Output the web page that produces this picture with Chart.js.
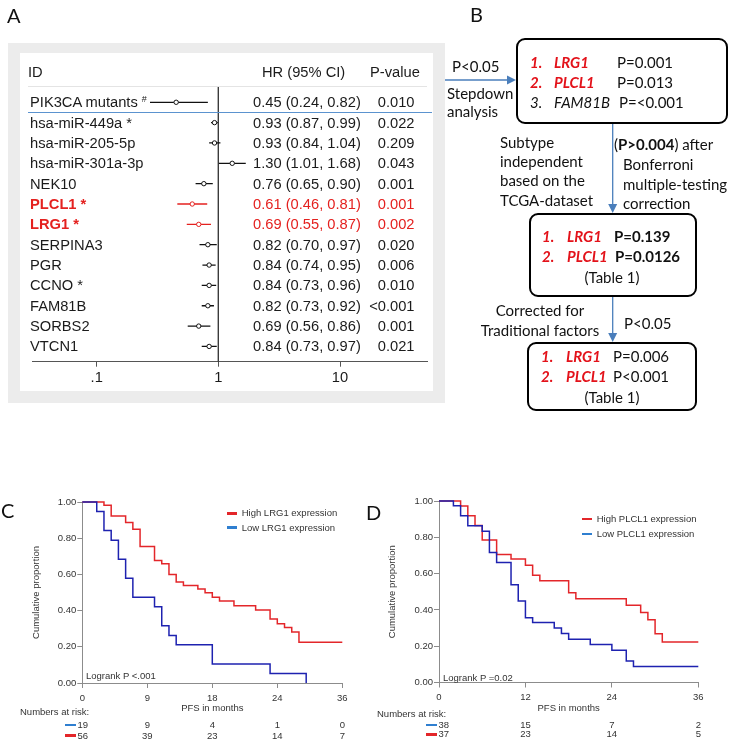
<!doctype html>
<html>
<head>
<meta charset="utf-8">
<title>Forest plot, marker selection and PFS curves</title>
<script src="https://cdn.jsdelivr.net/npm/chart.js@4/dist/chart.umd.min.js"></script>
<style>
  body { margin: 0; background: #fff; }
  #page { position: relative; width: 734px; height: 742px; overflow: hidden; font-family: "Liberation Sans", Arial, sans-serif; color: #1b1b1b; }
  #page canvas { position: absolute; }
  .abs { position: absolute; white-space: nowrap; line-height: 20px; height: 20px; }
  .letter { font-family: Lato, sans-serif; font-size: 20px; color: #111; }
  .fp { font-size: 14.7px; color: #1b1b1b; }
  .fp sup { font-size: 9px; vertical-align: 5px; line-height: 0; }
  .red { color: #e4211f; }
  .redb { color: #e4211f; font-weight: bold; }
  .flow { font-family: Lato, sans-serif; font-size: 15px; color: #111; }
  .gene { color: #e3121a; font-weight: bold; font-style: italic; }
  .km { font-size: 9.5px; color: #333; }
  .box { position: absolute; box-sizing: border-box; border: 2.5px solid #000; border-radius: 9px; background: #fff; }
  .sw { position: absolute; height: 2.5px; }
</style>
</head>
<body>
<div id="page">
  <div style="position:absolute;left:8px;top:43px;width:437px;height:360px;background:#ececec"></div>
  <div style="position:absolute;left:20px;top:53px;width:413px;height:338px;background:#fff"></div>
  <canvas id="forest" width="413" height="338" style="left:20px;top:53px"></canvas>

  <svg width="734" height="742" style="position:absolute;left:0;top:0">
    <g stroke="#4a7ebb" stroke-width="1.3" fill="none">
      <line x1="445" y1="80" x2="508" y2="80"/>
      <line x1="612.7" y1="123" x2="612.7" y2="206"/>
      <line x1="612.7" y1="296" x2="612.7" y2="335"/>
    </g>
    <g fill="#4a7ebb">
      <polygon points="516,80 507,75.5 507,84.5"/>
      <polygon points="612.7,213 608.2,204 617.2,204"/>
      <polygon points="612.7,342 608.2,333 617.2,333"/>
    </g>
  </svg>
  <div class="box" style="left:516px;top:38px;width:212px;height:86px"></div>
  <div class="box" style="left:529px;top:213px;width:168px;height:84px"></div>
  <div class="box" style="left:527px;top:342px;width:170px;height:69px"></div>

  <canvas id="kmC" width="360" height="234" style="left:0;top:480px"></canvas>
  <canvas id="kmD" width="367" height="234" style="left:367px;top:480px"></canvas>
</div>
<script>
  // panel A: Cox regression results
  const rowLabels = ['PIK3CA mutants', 'hsa-miR-449a', 'hsa-miR-205-5p', 'hsa-miR-301a-3p', 'NEK10', 'PLCL1', 'LRG1', 'SERPINA3', 'PGR', 'CCNO', 'FAM81B', 'SORBS2', 'VTCN1'];
  const rowMarks = ['#', '*', '', '', '', '*', '*', '', '', '*', '', '', ''];
  const hrValues = [0.45, 0.93, 0.93, 1.30, 0.76, 0.61, 0.69, 0.82, 0.84, 0.84, 0.82, 0.69, 0.84];
  const ciLower = [0.24, 0.87, 0.84, 1.01, 0.65, 0.46, 0.55, 0.70, 0.74, 0.73, 0.73, 0.56, 0.73];
  const ciUpper = [0.82, 0.99, 1.04, 1.68, 0.90, 0.81, 0.87, 0.97, 0.95, 0.96, 0.92, 0.86, 0.97];
  const pValues = ['0.010', '0.022', '0.209', '0.043', '0.001', '0.001', '0.002', '0.020', '0.006', '0.010', '<0.001', '0.001', '0.021'];
  const highlighted = ['PLCL1', 'LRG1'];
  const hrTicks = [0.1, 1, 10];
  const hrTickLabels = ['.1', '1', '10'];
  const nullHR = 1;

  // panel C: PFS by LRG1 expression (months, cumulative proportion)
  const cHighT = [0, 3, 4, 6, 7, 8, 10, 11, 12, 13, 14, 16, 17, 18, 19, 21, 24, 26, 27, 28, 29, 30, 36];
  const cHighS = [1, 0.982, 0.923, 0.887, 0.85, 0.754, 0.677, 0.659, 0.60, 0.558, 0.538, 0.52, 0.498, 0.474, 0.453, 0.427, 0.403, 0.354, 0.328, 0.306, 0.282, 0.225, 0.225];
  const cLowT = [0, 2, 3, 4, 5, 6, 7, 10, 11, 12, 13, 18, 26, 31];
  const cLowS = [1, 0.947, 0.842, 0.789, 0.684, 0.579, 0.474, 0.421, 0.316, 0.263, 0.211, 0.105, 0.053, 0];
  const cTicks = [0, 9, 18, 27, 36];
  const cTickLabels = ['0', '9', '18', '24', '36'];
  const cRiskLow = [19, 9, 4, 1, 0];
  const cRiskHigh = [56, 39, 23, 14, 7];

  // panel D: PFS by PLCL1 expression
  const dHighT = [0, 3, 4, 5, 6, 8, 10, 12, 13, 14, 18, 19, 26, 28, 29, 30, 31, 36];
  const dHighS = [1, 0.973, 0.919, 0.865, 0.785, 0.705, 0.68, 0.646, 0.591, 0.56, 0.494, 0.462, 0.425, 0.385, 0.346, 0.269, 0.223, 0.223];
  const dLowT = [0, 2, 3, 4, 6, 7, 8, 10, 11, 12, 13, 16, 17, 18, 21, 24, 26, 27, 36];
  const dLowS = [1, 0.974, 0.919, 0.864, 0.834, 0.716, 0.661, 0.539, 0.449, 0.357, 0.33, 0.30, 0.27, 0.238, 0.21, 0.177, 0.118, 0.088, 0.088];
  const dTicks = [0, 12, 24, 36];
  const dTickLabels = ['0', '12', '24', '36'];
  const dRiskLow = [38, 15, 7, 2];
  const dRiskHigh = [37, 23, 14, 5];

  const yTicks = [0, 0.2, 0.4, 0.6, 0.8, 1];

  const RED = '#e3262a';
  const BLUE = '#1e22b0';
  const LEGEND_BLUE = '#2f7fd0';
  const HL = '#e4211f';
  const ROW_MIN = -0.8, ROW_MAX = 12.75;

  const page = document.getElementById('page');
  function put(html, x, cy, cls, align) {
    const d = document.createElement('div');
    d.className = 'abs ' + (cls || '');
    d.innerHTML = html;
    d.style.left = x + 'px';
    d.style.top = (cy - 10) + 'px';
    if (align === 'right') d.style.transform = 'translateX(-100%)';
    if (align === 'center') d.style.transform = 'translateX(-50%)';
    page.appendChild(d);
    return d;
  }
  function swatch(x, cy, w, color) {
    const s = document.createElement('div');
    s.className = 'sw';
    s.style.left = x + 'px';
    s.style.top = (cy - 1.25) + 'px';
    s.style.width = w + 'px';
    s.style.background = color;
    page.appendChild(s);
  }

  // ---------- forest plot ----------
  const isHl = i => highlighted.indexOf(rowLabels[i]) >= 0;
  const rowColor = i => isHl(i) ? HL : '#111';

  const forestSets = rowLabels.map((name, i) => ({
    data: [{x: ciLower[i], y: i}, {x: ciUpper[i], y: i}],
    showLine: true, borderColor: rowColor(i), borderWidth: 1.3, pointRadius: 0, order: 2
  }));
  forestSets.push({
    data: [{x: nullHR, y: ROW_MIN}, {x: nullHR, y: ROW_MAX}],
    showLine: true, borderColor: '#3c3c3c', borderWidth: 1, pointRadius: 0, order: 3
  });
  forestSets.push({
    data: hrValues.map((v, i) => ({x: v, y: i})),
    showLine: false, pointRadius: 2.2, pointBorderWidth: 1,
    pointBorderColor: rowLabels.map((n, i) => rowColor(i)), pointBackgroundColor: '#fff', order: 1
  });

  const forest = new Chart(document.getElementById('forest'), {
    type: 'scatter',
    data: {datasets: forestSets},
    options: {
      responsive: false, animation: false, events: [],
      layout: {padding: {left: 12, top: 33, right: 6, bottom: 0}},
      plugins: {legend: {display: false}, tooltip: {enabled: false}},
      scales: {
        x: {
          type: 'logarithmic', min: 0.0294, max: 51.86,
          afterBuildTicks: s => { s.ticks = hrTicks.map(v => ({value: v})); },
          afterFit: s => { s.height = 29.3; },
          ticks: {callback: (v, i) => hrTickLabels[i], font: {family: 'Liberation Sans', size: 14.7}, color: '#1b1b1b', padding: 2.5, maxRotation: 0, autoSkip: false},
          grid: {drawOnChartArea: false, drawTicks: true, tickLength: 5, color: '#555'},
          border: {color: '#555'}
        },
        y: {type: 'linear', display: false, reverse: true, min: ROW_MIN, max: ROW_MAX}
      }
    }
  });

  const fy = forest.scales.y;
  const rowY = v => 53 + fy.getPixelForValue(v);
  // header rule and group divider
  const rule = document.createElement('div');
  rule.style.cssText = 'position:absolute;left:28px;width:399px;height:1px;background:#e4e4e4;top:' + (53 + forest.chartArea.top - 0.5) + 'px';
  page.appendChild(rule);
  const divider = document.createElement('div');
  divider.style.cssText = 'position:absolute;left:28px;width:404px;height:1px;background:#5b93cf;top:' + (rowY(0.5) - 0.5) + 'px';
  page.appendChild(divider);

  put('ID', 28, 72, 'fp');
  put('HR (95% CI)', 262, 72, 'fp');
  put('P-value', 370, 72, 'fp');
  rowLabels.forEach((name, i) => {
    const mark = rowMarks[i] === '#' ? ' <sup>#</sup>' : (rowMarks[i] ? ' ' + rowMarks[i] : '');
    const lab = put(name + mark, 30, rowY(i), 'fp' + (isHl(i) ? ' redb' : ''));
    lab.style.background = '#fff';
    lab.style.paddingRight = '3px';
    lab.style.lineHeight = '14px';
    lab.style.height = '14px';
    lab.style.top = (rowY(i) - 7) + 'px';
    const hrText = hrValues[i].toFixed(2) + ' (' + ciLower[i].toFixed(2) + ', ' + ciUpper[i].toFixed(2) + ')';
    put(hrText, 253, rowY(i), 'fp' + (isHl(i) ? ' red' : ''));
    put(pValues[i].replace('<', '&lt;'), 414.5, rowY(i), 'fp' + (isHl(i) ? ' red' : ''), 'right');
  });

  // ---------- panel B: selection flow ----------
  put('P&lt;0.05', 452, 66, 'flow');
  put('Stepdown', 447, 92.7, 'flow');
  put('analysis', 447, 110.5, 'flow');
  put('<span class="gene">1.</span>', 530, 61.7, 'flow');
  put('<span class="gene">LRG1</span>', 554, 61.7, 'flow');
  put('P=0.001', 617, 61.7, 'flow');
  put('<span class="gene">2.</span>', 530, 81.7, 'flow');
  put('<span class="gene">PLCL1</span>', 554, 81.7, 'flow');
  put('P=0.013', 617, 81.7, 'flow');
  put('<i>3.</i>', 530, 101.7, 'flow');
  put('<i>FAM81B</i>', 554, 101.7, 'flow');
  put('P=&lt;0.001', 619, 101.7, 'flow');

  put('Subtype', 500, 141.7, 'flow');
  put('independent', 500, 160.7, 'flow');
  put('based on the', 500, 180, 'flow');
  put('TCGA-dataset', 500, 199.5, 'flow');
  put('(<b>P&gt;0.004</b>) after', 614, 144, 'flow');
  put('Bonferroni', 623, 163.5, 'flow');
  put('multiple-testing', 623, 184, 'flow');
  put('correction', 623, 203.3, 'flow');

  put('<span class="gene">1.</span>', 542, 236, 'flow');
  put('<span class="gene">LRG1</span>', 567, 236, 'flow');
  put('<b>P=0.139</b>', 614, 236, 'flow');
  put('<span class="gene">2.</span>', 542, 256, 'flow');
  put('<span class="gene">PLCL1</span>', 567, 256, 'flow');
  put('<b>P=0.0126</b>', 615, 256, 'flow');
  put('(Table 1)', 612, 276.5, 'flow', 'center');

  put('Corrected for', 540, 310, 'flow', 'center');
  put('Traditional factors', 540, 330, 'flow', 'center');
  put('P&lt;0.05', 624, 322.7, 'flow');

  put('<span class="gene">1.</span>', 541, 356, 'flow');
  put('<span class="gene">LRG1</span>', 566, 356, 'flow');
  put('P=0.006', 613, 356, 'flow');
  put('<span class="gene">2.</span>', 541, 376, 'flow');
  put('<span class="gene">PLCL1</span>', 566, 376, 'flow');
  put('P&lt;0.001', 613, 376, 'flow');
  put('(Table 1)', 612, 396.5, 'flow', 'center');

  // ---------- panels C and D: Kaplan-Meier ----------
  const kmFont = {family: 'Liberation Sans', size: 9.5};
  const pts = (t, s) => t.map((x, i) => ({x: x, y: s[i]}));

  function makeKM(id, cfg) {
    return new Chart(document.getElementById(id), {
      type: 'scatter',
      data: {datasets: [
        {data: pts(cfg.lowT, cfg.lowS), showLine: true, stepped: true, borderColor: BLUE, borderWidth: 1.5, pointRadius: 0, clip: 4},
        {data: pts(cfg.highT, cfg.highS), showLine: true, stepped: true, borderColor: RED, borderWidth: 1.5, pointRadius: 0, clip: 4}
      ]},
      options: {
        responsive: false, animation: false, events: [],
        layout: {padding: cfg.padding},
        plugins: {legend: {display: false}, tooltip: {enabled: false}},
        scales: {
          x: {
            type: 'linear', min: 0, max: 36,
            afterBuildTicks: s => { s.ticks = cfg.ticks.map(v => ({value: v})); },
            afterFit: s => { s.height = cfg.xAxisH; },
            ticks: {callback: (v, i) => cfg.tickLabels[i], font: kmFont, color: '#333', padding: 4.2, maxRotation: 0, autoSkip: false},
            grid: {drawOnChartArea: false, drawTicks: true, tickLength: 5, color: '#8c8c8c'},
            border: {color: '#8c8c8c'},
            title: {display: true, text: 'PFS in months', font: kmFont, color: '#333', padding: {top: 0, bottom: 0}}
          },
          y: {
            type: 'linear', min: 0, max: 1,
            afterBuildTicks: s => { s.ticks = yTicks.map(v => ({value: v})); },
            afterFit: s => { s.width = cfg.yAxisW; },
            ticks: {callback: v => v.toFixed(2), font: kmFont, color: '#333', padding: 1},
            grid: {drawOnChartArea: false, drawTicks: true, tickLength: 5, color: '#8c8c8c'},
            border: {color: '#8c8c8c'},
            title: {display: true, text: 'Cumulative proportion', font: kmFont, color: '#333', padding: {top: cfg.yTitlePad, bottom: 0}}
          }
        }
      }
    });
  }

  const kmC = makeKM('kmC', {
    lowT: cLowT, lowS: cLowS, highT: cHighT, highS: cHighS, ticks: cTicks, tickLabels: cTickLabels,
    padding: {left: 0, top: 22, right: 17.7, bottom: 0}, xAxisH: 31, yAxisW: 82.3, yTitlePad: 31
  });
  const kmD = makeKM('kmD', {
    lowT: dLowT, lowS: dLowS, highT: dHighT, highS: dHighS, ticks: dTicks, tickLabels: dTickLabels,
    padding: {left: 0, top: 21, right: 35.7, bottom: 0}, xAxisH: 31.5, yAxisW: 72, yTitlePad: 19.3
  });

  function kmExtras(chart, left, ticks, riskLow, riskHigh, o) {
    swatch(o.legX, o.legY1, 10.6, RED);
    put(o.highName, o.legX + 15, o.legY1, 'km');
    swatch(o.legX, o.legY2, 10.6, LEGEND_BLUE);
    put(o.lowName, o.legX + 15, o.legY2, 'km');
    put(o.logrank, o.lrX, o.lrY, 'km');
    put('Numbers at risk:', o.nrX, o.nrY, 'km');
    swatch(o.swX, o.rowY1, 11, LEGEND_BLUE);
    swatch(o.swX, o.rowY2, 11, RED);
    ticks.forEach((t, i) => {
      if (i === 0) {
        // first column starts right after the swatch
        put(String(riskLow[i]), o.swX + 12.5, o.rowY1, 'km');
        put(String(riskHigh[i]), o.swX + 12.5, o.rowY2, 'km');
        return;
      }
      const px = left + chart.scales.x.getPixelForValue(t);
      put(String(riskLow[i]), px, o.rowY1, 'km', 'center');
      put(String(riskHigh[i]), px, o.rowY2, 'km', 'center');
    });
  }
  kmExtras(kmC, 0, cTicks, cRiskLow, cRiskHigh, {
    legX: 226.7, legY1: 513.3, legY2: 527.7, highName: 'High LRG1 expression', lowName: 'Low LRG1 expression',
    logrank: 'Logrank P &lt;.001', lrX: 86, lrY: 676, nrX: 20, nrY: 711.7, swX: 65, rowY1: 725, rowY2: 735.7
  });
  kmExtras(kmD, 367, dTicks, dRiskLow, dRiskHigh, {
    legX: 581.7, legY1: 519, legY2: 534, highName: 'High PLCL1 expression', lowName: 'Low PLCL1 expression',
    logrank: 'Logrank P =0.02', lrX: 443, lrY: 678.3, nrX: 377, nrY: 714, swX: 426, rowY1: 725, rowY2: 734.3
  });

  put('A', 7, 15, 'letter');
  put('B', 470, 13.5, 'letter');
  put('C', 1, 510, 'letter');
  put('D', 366, 512, 'letter');
</script>
</body>
</html>
